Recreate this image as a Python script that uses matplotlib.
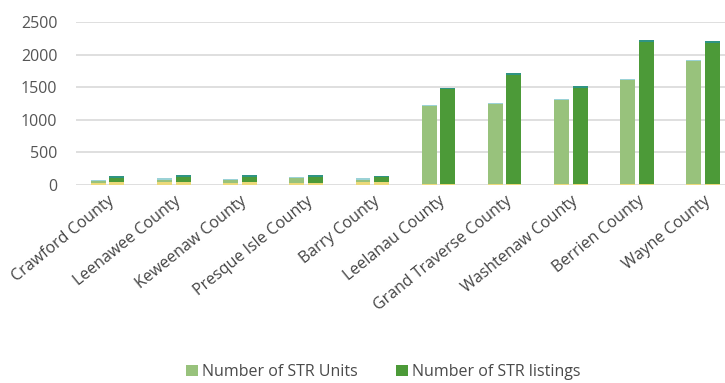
import numpy as np
import matplotlib.pyplot as plt

plt.rcParams['font.family'] = ['Open Sans', 'DejaVu Sans']

counties = ['Crawford County', 'Leenawee County', 'Keweenaw County', 'Presque Isle County',
            'Barry County', 'Leelanau County', 'Grand Traverse County', 'Washtenaw County',
            'Berrien County', 'Wayne County']
units = [70, 100, 90, 110, 105, 1230, 1250, 1320, 1630, 1920]
listings = [130, 150, 150, 145, 140, 1490, 1710, 1510, 2220, 2210]
# thin stacked segments visible at the bottom / top of each bar
units_base = [25, 35, 25, 30, 35, 15, 15, 15, 15, 15]
units_cap = [10, 30, 15, 10, 30, 15, 15, 15, 15, 15]
listings_base = [40, 45, 35, 30, 40, 15, 15, 15, 15, 15]
listings_cap = [30, 30, 30, 25, 25, 25, 25, 25, 25, 25]

c_units = '#98c27c'
c_list = '#4c9a38'
c_base = '#ecd97a'
c_ucap = '#9bd2d6'
c_lcap = '#2f9483'

x = np.arange(len(counties))
w = 0.225
off = 0.14

fig = plt.figure(figsize=(7.25, 3.83), dpi=100)
ax = fig.add_axes([0.105, 0.518, 0.895, 0.4244])

u = np.array(units)
l = np.array(listings)
ub = np.array(units_base)
uc = np.array(units_cap)
lb = np.array(listings_base)
lc = np.array(listings_cap)

ax.bar(x - off, ub, w, color=c_base, zorder=3)
ax.bar(x - off, u - ub - uc, w, bottom=ub, color=c_units, zorder=3, label='Number of STR Units')
ax.bar(x - off, uc, w, bottom=u - uc, color=c_ucap, zorder=3)
ax.bar(x + off, lb, w, color=c_base, zorder=3)
ax.bar(x + off, l - lb - lc, w, bottom=lb, color=c_list, zorder=3, label='Number of STR listings')
ax.bar(x + off, lc, w, bottom=l - lc, color=c_lcap, zorder=3)

ax.set_ylim(0, 2500)
ax.set_xlim(-0.476, 9.33)
ax.set_yticks([0, 500, 1000, 1500, 2000, 2500])
ax.yaxis.grid(True, color='#d9d9d9', linewidth=1.2, zorder=0)
ax.set_axisbelow(True)
for s in ax.spines.values():
    s.set_visible(False)
ax.tick_params(axis='y', length=0, pad=13.5, labelsize=11.5, labelcolor='#555555')
ax.tick_params(axis='x', length=0, pad=6)
ax.set_xticks(x)
ax.set_xticklabels(counties, rotation=39, ha='right', rotation_mode='anchor',
                   fontsize=11.5, color='#444444')

ax.legend(loc='center', bbox_to_anchor=(0.474, -1.155), ncol=2, frameon=False,
          fontsize=11.5, handlelength=0.7, handleheight=0.7, columnspacing=2.4,
          handletextpad=0.3, labelcolor='#4a4a4a')

fig.savefig('out.png', dpi=100)
